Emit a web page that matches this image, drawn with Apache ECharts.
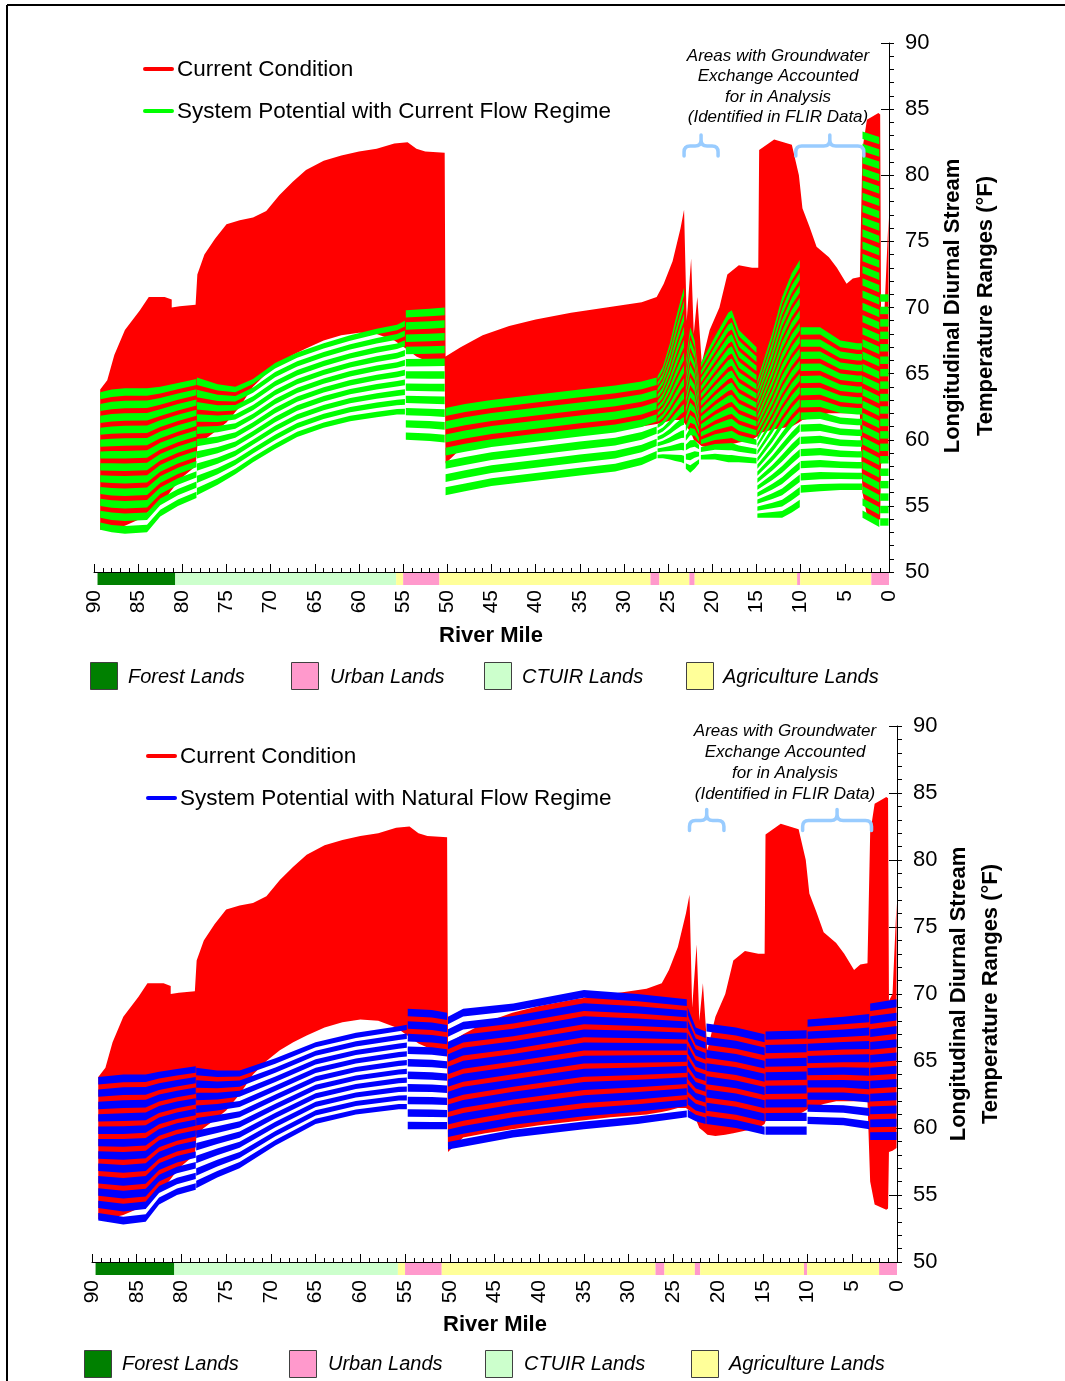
<!DOCTYPE html>
<html>
<head>
<meta charset="utf-8">
<script src="https://cdn.jsdelivr.net/npm/echarts@6/dist/echarts.min.js"></script>
<style>
  html, body { margin: 0; padding: 0; background: #fff; }
  #chart { width: 1065px; height: 1381px; }
</style>
</head>
<body>
<div id="chart"></div>
<script>
// ---------------- Current condition: daily min / max along the river ----------------
const ccRM = [89.3, 88.5, 87.7, 86.5, 84.8, 83.8, 82.0, 81.2, 81.2, 80.3, 78.5, 78.3, 77.5, 76.3, 75.0,
  73.5, 72.0, 70.5, 69.0, 67.5, 66.0, 64.0, 62.0, 60.0, 58.0, 56.0, 54.5, 53.5, 52.5, 50.3,
  50.2, 48.5, 46.0, 43.0, 40.0, 36.0, 32.0, 28.0, 26.3, 25.5, 24.5, 23.6, 23.2, 22.9, 22.4, 22.1,
  21.7, 21.2, 20.3, 19.2, 18.3, 17.0, 15.5, 14.8,
  14.7, 13.0, 11.0, 10.2, 9.8, 9.0, 8.2, 6.8, 5.9, 4.8, 4.1, 3.3, 3.0, 2.5, 1.2, 1.0, 0.9, 0.5, 0.3, 0.05];
const ccMax = [63.8, 64.5, 66.4, 68.3, 69.8, 70.8, 70.8, 70.6, 70.0, 70.1, 70.2, 72.5, 74.0, 75.2, 76.3,
  76.6, 76.8, 77.3, 78.5, 79.5, 80.4, 81.1, 81.5, 81.8, 82.0, 82.4, 82.5, 82.0, 81.8, 81.7,
  66.3, 67.0, 67.9, 68.6, 69.1, 69.6, 70.0, 70.4, 70.8, 71.8, 73.5, 76.0, 77.4, 69.0, 73.7, 68.0,
  70.8, 65.8, 68.3, 70.0, 72.5, 73.2, 73.0, 73.0,
  81.9, 82.7, 82.3, 80.0, 77.5, 76.1, 74.6, 73.8, 73.0, 71.8, 72.2, 72.3, 82.0, 84.2, 84.7, 84.6, 69.5, 70.0, 73.0, 76.8];
const ccMin = [53.2, 53.2, 53.3, 53.5, 54.0, 54.6, 55.5, 56.2, 56.2, 57.0, 58.0, 59.5, 60.0, 60.6, 61.3,
  62.5, 64.0, 65.0, 65.8, 66.4, 66.9, 67.5, 67.9, 68.1, 68.0, 67.5, 66.8, 66.3, 66.0, 65.6,
  58.2, 59.3, 59.6, 59.9, 60.2, 60.5, 60.8, 61.0, 61.2, 61.3, 61.5, 61.5, 61.3, 61.0, 60.5, 60.0,
  59.8, 59.5, 59.4, 59.5, 59.6, 59.8, 60.0, 60.3,
  60.5, 60.8, 61.0, 61.3, 61.5, 61.6, 61.8, 62.0, 62.0, 62.0, 62.0, 62.0, 56.0, 54.3, 53.9, 54.0, 58.2, 58.3, 58.4, 58.5];

// ---------------- System potential, current flow regime ----------------
const spcRM = [89.3, 88.0, 86.5, 84.0, 82.5, 80.5, 78.4,
  78.35, 76.0, 74.0, 72.0, 69.5, 67.0, 64.0, 61.0, 58.0, 55.7, 54.8, 54.7, 52.0, 50.3,
  50.2, 48.0, 45.0, 40.0, 35.0, 31.0, 28.0, 26.3,
  26.2, 25.6, 24.8, 24.2, 23.5, 23.2, 23.0, 22.5, 22.0, 21.5,
  21.3, 19.7, 18.2, 17.8, 17.0, 15.0,
  14.9, 13.2, 12.1, 11.0, 10.1,
  10.0, 7.8, 5.5, 3.6, 3.05,
  3.0, 1.1, 1.0, 0.05];
const spcMax = [63.6, 63.8, 63.9, 63.9, 64.0, 64.3, 64.6,
  64.7, 64.2, 64.0, 64.6, 65.8, 66.6, 67.3, 67.9, 68.4, 68.7, 69.0, 69.8, 69.9, 70.0,
  62.4, 62.7, 63.0, 63.4, 63.8, 64.1, 64.4, 64.7,
  64.8, 65.5, 67.3, 69.0, 70.8, 71.5, 66.0, 68.5, 67.5, 64.5,
  65.8, 67.8, 69.6, 69.8, 68.3, 67.0,
  64.5, 68.1, 70.8, 72.6, 73.6,
  68.5, 68.5, 67.5, 67.3, 67.3,
  83.3, 82.9, 71.0, 71.0];
const spcMin = [53.2, 53.0, 52.9, 53.0, 54.2, 55.0, 55.6,
  55.8, 56.6, 57.4, 58.3, 59.3, 60.2, 60.9, 61.4, 61.7, 61.9, 61.9, 60.0, 59.9, 59.8,
  55.8, 56.1, 56.5, 56.9, 57.3, 57.6, 58.1, 58.6,
  58.6, 58.6, 58.5, 58.4, 58.3, 58.2, 57.8, 57.5, 57.8, 58.2,
  58.5, 58.5, 58.3, 58.3, 58.3, 58.2,
  54.1, 54.1, 54.1, 54.5, 54.9,
  56.0, 56.1, 56.2, 56.2, 56.2,
  54.1, 53.4, 53.5, 53.5];

// ---------------- System potential, natural flow regime ----------------
const spnRM = [89.3, 86.5, 84.0, 82.5, 80.5, 78.4,
  78.35, 76.0, 73.5, 69.5, 65.0, 60.5, 55.7, 54.8, 54.7, 52.0, 50.3,
  50.2, 48.5, 42.9, 35.0, 29.0, 23.5,
  23.4, 22.5, 21.4,
  21.3, 18.0, 14.8,
  14.7, 10.1,
  10.0, 6.0, 3.1,
  3.0, 0.05];
const spnMax = [63.8, 64.0, 64.0, 64.2, 64.4, 64.6,
  64.5, 64.3, 64.3, 65.2, 66.4, 67.1, 67.6, 67.7, 68.9, 68.8, 68.6,
  68.3, 68.9, 69.3, 70.3, 70.0, 69.6,
  69.0, 67.5, 67.2,
  67.8, 67.5, 67.0,
  67.2, 67.3,
  68.1, 68.3, 68.5,
  69.3, 69.6];
const spnMin = [53.1, 52.8, 53.0, 54.3, 55.0, 55.4,
  55.5, 56.3, 57.0, 58.7, 60.3, 61.0, 61.4, 61.4, 59.9, 59.9, 59.9,
  58.4, 58.6, 59.3, 59.9, 60.3, 60.8,
  60.8, 60.5, 60.3,
  60.3, 60.0, 59.5,
  59.5, 59.5,
  60.3, 60.2, 59.9,
  59.1, 59.1];

// ---------------- Land ownership / use along the river ----------------
const landStart = [89.6, 80.8, 55.8, 55.0, 50.9, 27.0, 26.0, 22.6, 22.0, 10.4, 10.05, 2.0];
const landEnd   = [80.8, 55.8, 55.0, 50.9, 27.0, 26.0, 22.6, 22.0, 10.4, 10.05, 2.0, 0.0];
const landType  = [0, 2, 3, 1, 3, 1, 3, 1, 3, 1, 3, 1];
const landNames = ['Forest Lands', 'Urban Lands', 'CTUIR Lands', 'Agriculture Lands'];
const landColors = ['#008000', '#ff99cc', '#ccffcc', '#ffff99'];

// ---------------- Groundwater exchange reaches ----------------
const gwFrom = [23.2, 10.55];
const gwTo   = [19.35, 2.85];

// ---------------- Axis ticks ----------------
const rmTicks = { min: 0, max: 90, step: 5 };
const tempTicks = { min: 50, max: 90, step: 5 };

const FONT = "'Liberation Sans', Arial, sans-serif";
const STRIPE_STEP = 0.92;  // approximate °F per stripe cycle
const STRIPE_FILL = 0.6;   // share of each cycle that is filled
const SEG_BREAK = 0.21;    // river-mile gap that marks a reach boundary

const panels = [
  { grid: { left: 94, top: 43, width: 795, height: 529 }, spRM: spcRM, spMax: spcMax, spMin: spcMin,
    spColor: '#00ff00', spLabel: 'System Potential with Current Flow Regime', braceBase: 81.45 },
  { grid: { left: 92, top: 726, width: 805, height: 536 }, spRM: spnRM, spMax: spnMax, spMin: spnMin,
    spColor: '#0000ff', spLabel: 'System Potential with Natural Flow Regime', braceBase: 82.2 }
];

function bandSeries(g, rm, hi, lo, color) {
  return {
    type: 'custom', xAxisIndex: g, yAxisIndex: g * 2, clip: true, silent: true,
    data: [[rm[0], lo[0]]], encode: { x: 0, y: 1 },
    renderItem: function (params, api) {
      const pts = [];
      for (let i = 0; i < rm.length; i++) pts.push(api.coord([rm[i], hi[i]]));
      for (let i = rm.length - 1; i >= 0; i--) pts.push(api.coord([rm[i], lo[i]]));
      return { type: 'polygon', shape: { points: pts }, style: { fill: color } };
    }
  };
}

// split a band into model reaches at the vertical steps
function reaches(rm) {
  const out = [];
  let start = 0;
  for (let i = 1; i < rm.length; i++) {
    if (rm[i - 1] - rm[i] <= SEG_BREAK) { out.push([start, i - 1]); start = i; }
  }
  out.push([start, rm.length - 1]);
  return out;
}

function stripeSeries(g, rm, hi, lo, color) {
  return {
    type: 'custom', xAxisIndex: g, yAxisIndex: g * 2, clip: true, silent: true,
    data: [[rm[0], lo[0]]], encode: { x: 0, y: 1 },
    renderItem: function (params, api) {
      const children = [];
      reaches(rm).forEach(function (r) {
        let w = 0;
        for (let i = r[0]; i <= r[1]; i++) w = Math.max(w, hi[i] - lo[i]);
        const n = Math.max(1, Math.round(w / STRIPE_STEP));
        // n filled stripes, first at the bottom edge and last at the top edge
        const cyc = 1 / (n - 1 + STRIPE_FILL);
        for (let k = 0; k < n; k++) {
          const f0 = k * cyc, f1 = Math.min(1, f0 + STRIPE_FILL * cyc);
          const pts = [];
          for (let i = r[0]; i <= r[1]; i++) pts.push(api.coord([rm[i], lo[i] + (hi[i] - lo[i]) * f1]));
          for (let i = r[1]; i >= r[0]; i--) pts.push(api.coord([rm[i], lo[i] + (hi[i] - lo[i]) * f0]));
          children.push({ type: 'polygon', shape: { points: pts }, style: { fill: color } });
        }
      });
      return { type: 'group', children: children };
    }
  };
}

function landSeries(g) {
  return {
    type: 'custom', xAxisIndex: g, yAxisIndex: g * 2, clip: false, silent: true,
    data: landStart.map((s, i) => [s, landEnd[i], landType[i]]),
    encode: { x: [0, 1] },
    renderItem: function (params, api) {
      const a = api.coord([api.value(0), tempTicks.min]);
      const b = api.coord([api.value(1), tempTicks.min]);
      return {
        type: 'rect',
        shape: { x: Math.min(a[0], b[0]), y: a[1] + 1, width: Math.abs(b[0] - a[0]), height: 12 },
        style: { fill: landColors[api.value(2)] }
      };
    }
  };
}

function braceSeries(g, base) {
  return {
    type: 'custom', xAxisIndex: g, yAxisIndex: g * 2, clip: false, silent: true,
    data: gwFrom.map((f, i) => [f, gwTo[i], base]),
    encode: { x: [0, 1], y: 2 },
    renderItem: function (params, api) {
      const a = api.coord([api.value(0), api.value(2)]);
      const b = api.coord([api.value(1), api.value(2)]);
      const x1 = a[0], x2 = b[0], xm = (x1 + x2) / 2;
      const yEnd = a[1], yh = yEnd - 10, yPeak = yEnd - 21, r = 6;
      const d = `M${x1},${yEnd} L${x1},${yh + r} Q${x1},${yh} ${x1 + r},${yh} L${xm - r},${yh} ` +
        `Q${xm},${yh} ${xm},${yh - r} L${xm},${yPeak} M${xm},${yh - r} Q${xm},${yh} ${xm + r},${yh} ` +
        `L${x2 - r},${yh} Q${x2},${yh} ${x2},${yh + r} L${x2},${yEnd}`;
      return {
        type: 'path', shape: { pathData: d },
        style: { fill: 'none', stroke: '#99ccff', lineWidth: 3.5, lineCap: 'round', lineJoin: 'round' }
      };
    }
  };
}

const xAxes = [], yAxes = [], series = [], graphics = [];

panels.forEach((p, g) => {
  xAxes.push({
    gridIndex: g, type: 'value', min: rmTicks.min, max: rmTicks.max, interval: rmTicks.step, inverse: true,
    axisLine: { show: true, onZero: false, lineStyle: { color: '#000', width: 1 } },
    axisTick: { show: true, inside: true, length: 8, lineStyle: { color: '#000' } },
    minorTick: { show: true, splitNumber: 5, length: 4, lineStyle: { color: '#000' } },
    axisLabel: { rotate: 90, margin: 18, fontSize: 21, color: '#000', fontFamily: FONT,
      showMinLabel: true, showMaxLabel: true },
    splitLine: { show: false }
  });
  yAxes.push({
    gridIndex: g, type: 'value', position: 'right', min: tempTicks.min, max: tempTicks.max, interval: tempTicks.step,
    axisLine: { show: true, lineStyle: { color: '#000', width: 1 } },
    axisTick: { show: true, inside: false, length: 5, lineStyle: { color: '#000' } },
    minorTick: { show: true, splitNumber: 5, length: 5, lineStyle: { color: '#000' } },
    axisLabel: { margin: 16, fontSize: 22, color: '#000', fontFamily: FONT },
    splitLine: { show: false }
  });
  yAxes.push({
    gridIndex: g, type: 'value', position: 'right', min: tempTicks.min, max: tempTicks.max, interval: tempTicks.step,
    axisLine: { show: false },
    axisTick: { show: true, inside: true, length: 8, lineStyle: { color: '#000' } },
    minorTick: { show: false },
    axisLabel: { show: false },
    splitLine: { show: false }
  });

  series.push(bandSeries(g, ccRM, ccMax, ccMin, '#ff0000'));
  series.push(stripeSeries(g, p.spRM, p.spMax, p.spMin, p.spColor));
  series.push(landSeries(g));
  series.push(braceSeries(g, p.braceBase));
});

// ---------- text, legends and frame ----------
function txt(x, y, text, opt) {
  return Object.assign({
    type: 'text', x: x, y: y, silent: true,
    style: Object.assign({
      text: text, fill: '#000', fontFamily: FONT, fontSize: 22.5,
      textAlign: 'left', textVerticalAlign: 'middle', align: 'left', verticalAlign: 'middle'
    }, opt && opt.style)
  }, opt && opt.el);
}
function centered(x, y, text, style, rot) {
  const st = Object.assign({ textAlign: 'center', align: 'center' }, style);
  return txt(x, y, text, { style: st, el: rot ? { rotation: rot } : {} });
}

const layout = [
  { legY: [69, 111], legX: [145, 172], legTextX: 177,
    noteX: 778, noteY: [56, 76, 97, 117],
    titleX: [953, 986], titleY: 306, riverMile: [491, 636],
    swatchX: [90, 291, 484, 686], swatchY: 662, labelX: [128, 330, 522, 723], labelY: 677 },
  { legY: [756, 798], legX: [148, 175], legTextX: 180,
    noteX: 785, noteY: [731, 752, 773, 794],
    titleX: [959, 991], titleY: 994, riverMile: [495, 1325],
    swatchX: [84, 289, 485, 691], swatchY: 1350, labelX: [122, 328, 524, 729], labelY: 1364 }
];
const noteLines = ['Areas with Groundwater', 'Exchange Accounted', 'for in Analysis', '(Identified in FLIR Data)'];

layout.forEach((L, g) => {
  const colors = ['#ff0000', panels[g].spColor];
  const labels = ['Current Condition', panels[g].spLabel];
  for (let i = 0; i < 2; i++) {
    graphics.push({ type: 'line', silent: true,
      shape: { x1: L.legX[0], y1: L.legY[i], x2: L.legX[1], y2: L.legY[i] },
      style: { stroke: colors[i], lineWidth: 4, lineCap: 'round' } });
    graphics.push(txt(L.legTextX, L.legY[i] + 1, labels[i]));
  }
  noteLines.forEach((t, i) => graphics.push(centered(L.noteX, L.noteY[i], t,
    { fontSize: 17, fontStyle: 'italic' })));
  graphics.push(centered(L.titleX[0], L.titleY, 'Longitudinal Diurnal Stream',
    { fontSize: 22, fontWeight: 'bold' }, Math.PI / 2));
  graphics.push(centered(L.titleX[1], L.titleY, 'Temperature Ranges (\u00B0F)',
    { fontSize: 22, fontWeight: 'bold' }, Math.PI / 2));
  graphics.push(centered(L.riverMile[0], L.riverMile[1], 'River Mile', { fontSize: 22, fontWeight: 'bold' }));
  landNames.forEach((name, i) => {
    graphics.push({ type: 'rect', silent: true,
      shape: { x: L.swatchX[i] + 0.5, y: L.swatchY + 0.5, width: 27, height: 27 },
      style: { fill: landColors[i], stroke: '#404040', lineWidth: 1 } });
    graphics.push(txt(L.labelX[i], L.labelY, name, { style: { fontSize: 20, fontStyle: 'italic' } }));
  });
});

// outer frame (left and top edges)
graphics.push({ type: 'line', silent: true, shape: { x1: 7, y1: 5, x2: 1065, y2: 5 },
  style: { stroke: '#000', lineWidth: 2 } });
graphics.push({ type: 'line', silent: true, shape: { x1: 7, y1: 5, x2: 7, y2: 1381 },
  style: { stroke: '#000', lineWidth: 2 } });

const chart = echarts.init(document.getElementById('chart'), null, { renderer: 'canvas' });
chart.setOption({
  animation: false,
  backgroundColor: '#ffffff',
  textStyle: { fontFamily: FONT },
  grid: panels.map(p => Object.assign({ containLabel: false, show: false }, p.grid)),
  xAxis: xAxes,
  yAxis: yAxes,
  series: series,
  graphic: { elements: graphics }
});
</script>
</body>
</html>
